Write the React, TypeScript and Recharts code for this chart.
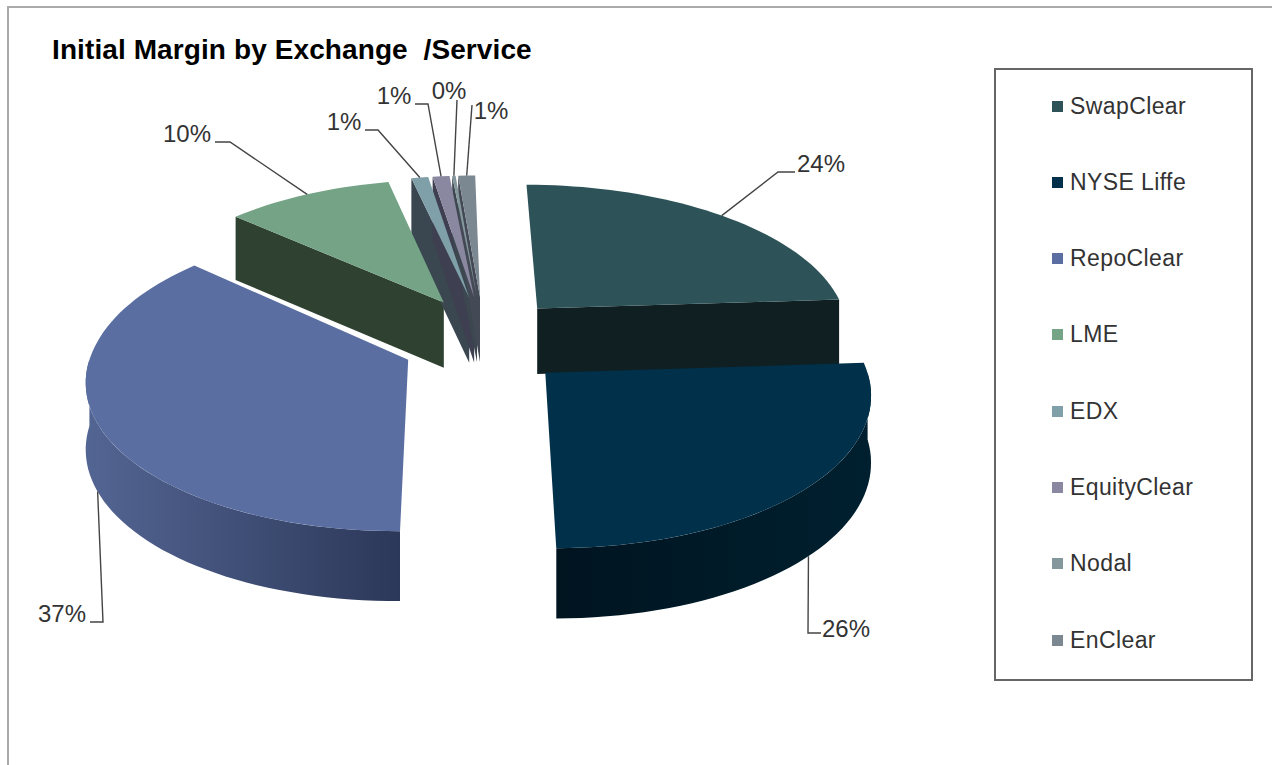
import React from "react";
import { PieChart, Pie, Legend } from "recharts";

// Share of initial margin per exchange or service, in percent.
const categories = ["SwapClear", "NYSE Liffe", "RepoClear", "LME", "EDX", "EquityClear", "Nodal", "EnClear"];
const shareValues = [24, 26, 37, 10, 1, 1, 0.2, 1];

const topColors = ["#2d5359", "#00304a", "#5a6ea1", "#74a386", "#7f9fa9", "#8a87a0", "#84979c", "#7b8791"];
const wallLight = ["#142628", "#00202f", "#536593", "#2f4231", "#3b4750", "#3e3f50", "#3c4750", "#434a55"];
const wallDark = ["#102022", "#001420", "#2c3859", "#2f4231", "#3b4750", "#3e3f50", "#3c4750", "#434a55"];

// Where each leader line bends and where its label sits.
const leaderBends: [number, number][][] = [
  [[778, 172], [795, 172]],
  [[808, 633], [821, 633]],
  [[103, 622], [90, 622]],
  [[230, 142], [215, 142]],
  [[378, 130], [365, 130]],
  [[428, 104], [415, 104]],
  [[457, 100], [457, 100]],
  [[472, 105], [472, 105]],
];
const labelAnchors: [number, number][] = [
  [821, 163], [846, 628], [62, 613], [187, 133], [344, 121], [394, 95], [449, 90], [491, 110],
];

const chartData = categories.map((name, i) => ({ name, value: shareValues[i], fill: topColors[i] }));

const TILT = 0.465;      // vertical squash of the disc
const PERSPECTIVE = 0.12;
const EXPLODE = 0.26;    // slice pull-out, as a fraction of the radius
const EXPLODE_DEPTH = 1.2; // extra pull-out along the viewing direction
const SKEW = 5;          // the far half of the disc leans left by this many pixels
const DEPTH = 66;        // wall height in pixels

type Pt = [number, number];

function makeProjector(cx: number, cy: number, radius: number, startAngle: number, endAngle: number) {
  const mid = ((90 - (startAngle + endAngle) / 2) * Math.PI) / 180;
  const ou = EXPLODE * Math.sin(mid);
  const ov = EXPLODE * EXPLODE_DEPTH * Math.cos(mid);
  return (u: number, v: number, drop: number): Pt => {
    const pu = u + ou;
    const pv = v + ov;
    const s = 1 / (1 + PERSPECTIVE * pv);
    return [
      cx + radius * pu * s - SKEW * Math.max(pv, 0),
      cy - radius * TILT * pv * s + drop * Math.pow(s, 0.4),
    ];
  };
}

function arcPoints(startAngle: number, endAngle: number, project: (u: number, v: number, d: number) => Pt, drop: number): Pt[] {
  const steps = Math.max(2, Math.ceil(Math.abs(endAngle - startAngle) / 2));
  const pts: Pt[] = [];
  for (let i = 0; i <= steps; i++) {
    const a = startAngle + ((endAngle - startAngle) * i) / steps;
    const t = ((90 - a) * Math.PI) / 180;
    pts.push(project(Math.sin(t), Math.cos(t), drop));
  }
  return pts;
}

const toPath = (pts: Pt[]) => "M" + pts.map((p) => `${p[0].toFixed(1)},${p[1].toFixed(1)}`).join("L") + "Z";

function SliceWalls(props: any) {
  const { cx, cy, outerRadius, startAngle, endAngle, name } = props;
  const i = categories.indexOf(name);
  const project = makeProjector(cx, cy, outerRadius, startAngle, endAngle);
  const top = arcPoints(startAngle, endAngle, project, 0);
  const bottom = arcPoints(startAngle, endAngle, project, DEPTH);
  const apexTop = project(0, 0, 0);
  const apexBottom = project(0, 0, DEPTH);
  const first = [apexTop, top[0], bottom[0], apexBottom] as Pt[];
  const last = [apexTop, top[top.length - 1], bottom[bottom.length - 1], apexBottom] as Pt[];

  // The curved wall only shows on the front half of the disc (angles 0 to -180).
  const frontStart = Math.min(startAngle, 0);
  const frontEnd = Math.max(endAngle, -180);
  const hasFront = frontStart > frontEnd;
  const outer = hasFront
    ? [...arcPoints(frontStart, frontEnd, project, 0), ...arcPoints(frontStart, frontEnd, project, DEPTH).reverse()]
    : [];
  const xs = outer.map((p) => p[0]);
  const gid = `wall-shade-${i}`;

  // A cut face is drawn only when its outward side looks toward the viewer.
  const sinStart = Math.sin(((90 - startAngle) * Math.PI) / 180);
  const sinEnd = Math.sin(((90 - endAngle) * Math.PI) / 180);
  return (
    <g>
      {sinStart < -0.01 && <path d={toPath(first)} fill={wallDark[i]} />}
      {sinEnd > 0.01 && <path d={toPath(last)} fill={wallDark[i]} />}
      {hasFront && (
        <>
          <defs>
            <linearGradient id={gid} gradientUnits="userSpaceOnUse" x1={Math.min(...xs)} x2={Math.max(...xs)} y1={0} y2={0}>
              <stop offset="0" stopColor={i === 1 ? wallDark[i] : wallLight[i]} />
              <stop offset="1" stopColor={i === 1 ? wallLight[i] : wallDark[i]} />
            </linearGradient>
          </defs>
          <path d={toPath(outer)} fill={`url(#${gid})`} />
        </>
      )}
    </g>
  );
}

function SliceTop(props: any) {
  const { cx, cy, outerRadius, startAngle, endAngle, fill } = props;
  const project = makeProjector(cx, cy, outerRadius, startAngle, endAngle);
  const pts = [project(0, 0, 0), ...arcPoints(startAngle, endAngle, project, 0)];
  return <path d={toPath(pts)} fill={fill} />;
}

function SliceLabel(props: any) {
  const { cx, cy, outerRadius, startAngle, endAngle, name, percent } = props;
  const i = categories.indexOf(name);
  const project = makeProjector(cx, cy, outerRadius, startAngle, endAngle);
  const t = ((90 - (startAngle + endAngle) / 2) * Math.PI) / 180;
  // Front slices hang their leader from the foot of the wall, back slices from the rim.
  const start = project(Math.sin(t), Math.cos(t), Math.cos(t) < 0 ? DEPTH : 0);
  const line = [start, ...leaderBends[i]].map((p) => p.join(",")).join(" ");
  const [lx, ly] = labelAnchors[i];
  return (
    <g>
      <polyline points={line} fill="none" stroke="#444" strokeWidth={1.4} />
      <text x={lx} y={ly} textAnchor="middle" dominantBaseline="central" fontFamily="Liberation Sans" fontSize={24} fill="#333">
        {`${Math.round(percent * 100)}%`}
      </text>
    </g>
  );
}

function LegendList({ payload }: any) {
  const entries = categories.map((name) => (payload || []).find((e: any) => e.value === name)).filter(Boolean);
  return (
    <div style={{ position: "relative", width: "100%", height: "100%" }}>
      {entries.map((entry: any, i: number) => (
        <div
          key={entry.value}
          style={{ position: "absolute", left: 56, top: 36 + i * 76.3 - 14, height: 28, display: "flex", alignItems: "center", whiteSpace: "nowrap" }}
        >
          <span style={{ width: 11, height: 11, background: entry.color, marginRight: 7, display: "inline-block" }} />
          <span style={{ fontFamily: "Liberation Sans", fontSize: 23, color: "#333", letterSpacing: 0.4 }}>{entry.value}</span>
        </div>
      ))}
    </div>
  );
}

export default function App() {
  return (
    <div style={{ position: "absolute", left: 0, top: 0, width: 1272, height: 765, overflow: "hidden", background: "#fff" }}>
      <div style={{ position: "absolute", left: 7, top: 6, width: 1265, height: 759, borderLeft: "2px solid #aaa", borderTop: "2px solid #aaa", boxSizing: "border-box" }} />
      <div style={{ position: "absolute", left: 52, top: 34, fontFamily: "Liberation Sans", fontWeight: "bold", fontSize: 28, letterSpacing: 0.1, color: "#000", whiteSpace: "pre" }}>
        Initial Margin by Exchange  /Service
      </div>
      <PieChart width={1272} height={765} margin={{ top: 0, right: 0, bottom: 0, left: 0 }} style={{ position: "absolute", left: 0, top: 0 }}>
        <Pie
          data={chartData}
          dataKey="value"
          nameKey="name"
          cx={484}
          cy={341}
          outerRadius={314}
          startAngle={90}
          endAngle={-270}
          stroke="none"
          legendType="none"
          isAnimationActive={false}
          shape={SliceWalls}
        />
        <Pie
          data={chartData}
          dataKey="value"
          nameKey="name"
          cx={484}
          cy={341}
          outerRadius={314}
          startAngle={90}
          endAngle={-270}
          stroke="none"
          isAnimationActive={false}
          shape={SliceTop}
          label={SliceLabel}
          labelLine={false}
        />
        <Legend
          content={LegendList}
          itemSorter={null as any}
          wrapperStyle={{ position: "absolute", left: 994, top: 68, width: 259, height: 613, bottom: "auto", right: "auto", border: "2px solid #666", boxSizing: "border-box", background: "#fff" }}
        />
      </PieChart>
    </div>
  );
}
